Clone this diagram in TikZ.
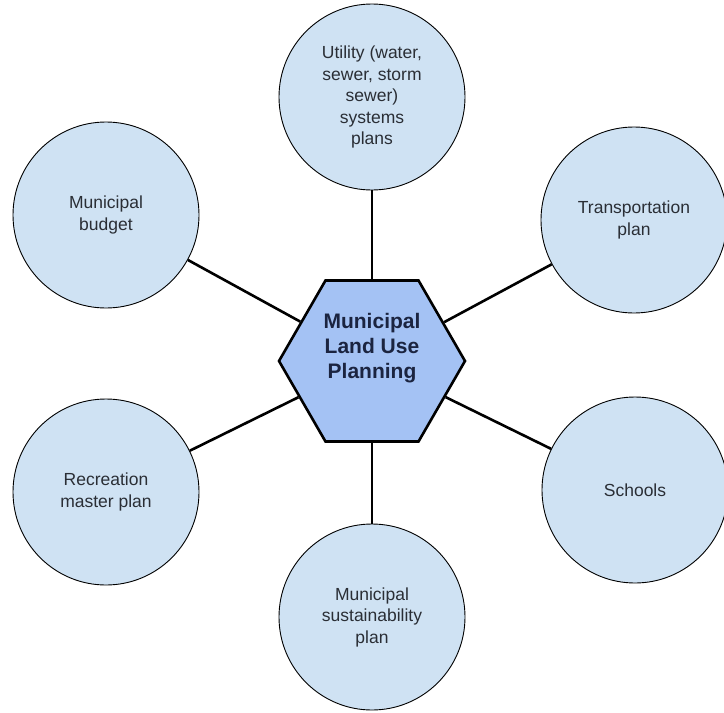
\documentclass[tikz,border=0pt]{standalone}
\usepackage{fontspec}
\setmainfont{Liberation Sans}
\usepackage{tikz}
\usetikzlibrary{shapes}

\definecolor{bubblefill}{HTML}{CFE2F3}
\definecolor{hubfill}{HTML}{A4C2F4}
\definecolor{hubtext}{HTML}{1B2440}
\definecolor{bubbletext}{HTML}{2A2E35}

\begin{document}
\begin{tikzpicture}[x=1pt, y=-1pt,
    topic/.style={circle, draw, line width=0.9pt, fill=bubblefill, minimum size=186pt,
        inner sep=0pt, align=center, text=bubbletext, font=\fontsize{17.5}{21.5}\selectfont},
    hub/.style={regular polygon, regular polygon sides=6, draw, line width=2.6pt,
        fill=hubfill, minimum size=186pt, inner sep=0pt},
    link/.style={line width=2.6pt}]
    \useasboundingbox (0,0) rectangle (724,713);

    % centre hexagon
    \node [hub, label={[align=center, text=hubtext, yshift=13pt,
        font=\bfseries\fontsize{21}{25}\selectfont]center:Municipal\\Land Use\\Planning}]
        (hub) at (372,361) {};

    % surrounding plans
    \node [topic] (utility) at (372,97) {Utility (water,\\sewer, storm\\sewer)\\systems\\plans};
    \node [topic] (transport) at (634,220) {Transportation\\plan};
    \node [topic] (schools) at (635,490) {Schools};
    \node [topic] (sustain) at (372,617) {Municipal\\sustainability\\plan};
    \node [topic] (recreation) at (106,492) {Recreation\\master plan};
    \node [topic] (budget) at (106,215) {Municipal\\budget};

    \draw [link] (hub) -- (utility);
    \draw [link] (hub) -- (transport);
    \draw [link] (hub) -- (schools);
    \draw [link] (hub) -- (sustain);
    \draw [link] (hub) -- (recreation);
    \draw [link] (hub) -- (budget);
\end{tikzpicture}
\end{document}
